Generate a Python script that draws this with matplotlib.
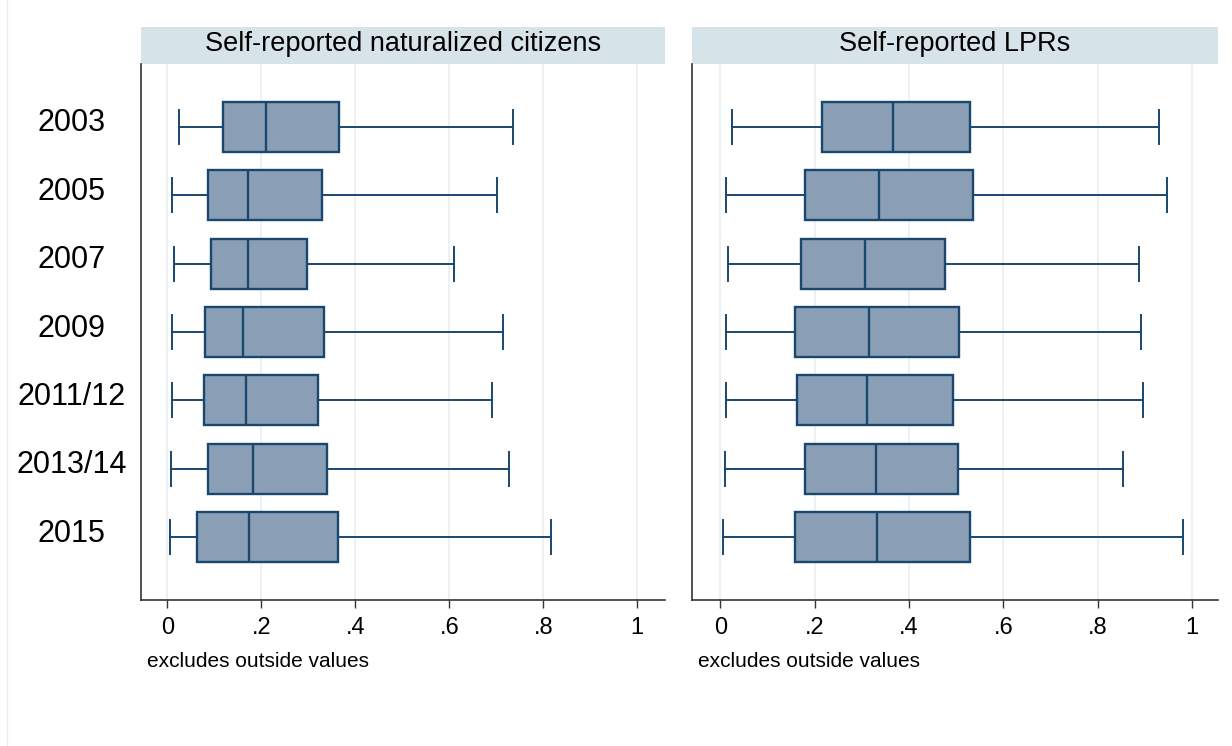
import matplotlib
matplotlib.use("Agg")
import matplotlib.pyplot as plt
import matplotlib.transforms as mtransforms
from matplotlib.patches import Rectangle
from matplotlib.lines import Line2D

plt.rcParams['font.family'] = ['Liberation Sans', 'DejaVu Sans']

years = ['2003', '2005', '2007', '2009', '2011/12', '2013/14', '2015']
titles = ['Self-reported naturalized citizens', 'Self-reported LPRs']
xticks = [0, 0.2, 0.4, 0.6, 0.8, 1]
xticklabels = ['0', '.2', '.4', '.6', '.8', '1']

# naturalized citizens
nat_lo = [0.025, 0.009, 0.014, 0.010, 0.011, 0.007, 0.006]
nat_q1 = [0.119, 0.086, 0.093, 0.081, 0.077, 0.086, 0.064]
nat_med = [0.211, 0.171, 0.171, 0.162, 0.168, 0.182, 0.173]
nat_q3 = [0.365, 0.330, 0.298, 0.333, 0.320, 0.340, 0.364]
nat_hi = [0.736, 0.702, 0.610, 0.714, 0.691, 0.726, 0.817]

# LPRs
lpr_lo = [0.024, 0.012, 0.016, 0.012, 0.012, 0.010, 0.005]
lpr_q1 = [0.216, 0.179, 0.171, 0.158, 0.162, 0.179, 0.158]
lpr_med = [0.367, 0.337, 0.306, 0.316, 0.311, 0.330, 0.333]
lpr_q3 = [0.530, 0.536, 0.476, 0.507, 0.494, 0.503, 0.529]
lpr_hi = [0.929, 0.946, 0.888, 0.891, 0.895, 0.854, 0.980]

navy = '#1a476f'
fill = '#8a9fb6'
strip = '#d6e3e9'
gridc = '#e8eff2'

fig = plt.figure(figsize=(12.32, 7.46), dpi=100)

panels = [
    (141 / 1232, 524 / 1232, (-0.056, 1.059), (nat_lo, nat_q1, nat_med, nat_q3, nat_hi)),
    (692 / 1232, 526 / 1232, (-0.060, 1.055), (lpr_lo, lpr_q1, lpr_med, lpr_q3, lpr_hi)),
]
bottom = (746 - 600) / 746
height = 536 / 746

for i, (left, width, xlim, data) in enumerate(panels):
    ax = fig.add_axes([left, bottom, width, height])
    lo, q1, med, q3, hi = data
    stats = []
    for k in range(len(years)):
        stats.append(dict(whislo=lo[k], q1=q1[k], med=med[k], q3=q3[k],
                          whishi=hi[k], fliers=[], label=years[k]))
    pos = list(range(1, len(years) + 1))
    ax.bxp(stats, positions=pos, widths=0.73, orientation='horizontal',
           patch_artist=True, showfliers=False, capwidths=0.5, manage_ticks=False,
           boxprops=dict(facecolor=fill, edgecolor=navy, linewidth=1.7),
           medianprops=dict(color=navy, linewidth=1.7),
           whiskerprops=dict(color=navy, linewidth=1.4),
           capprops=dict(color=navy, linewidth=1.4))
    ax.set_ylim(7.92, 0.08)
    ax.set_xlim(*xlim)
    ax.set_xticks(xticks)
    ax.set_xticklabels(xticklabels, fontsize=17)
    ax.grid(axis='x', color=gridc, linewidth=1.2, zorder=0)
    ax.set_axisbelow(True)
    ax.spines['top'].set_visible(False)
    ax.spines['right'].set_visible(False)
    ax.spines['left'].set_color('#333333')
    ax.spines['bottom'].set_color('#333333')
    ax.spines['left'].set_linewidth(1.2)
    ax.spines['bottom'].set_linewidth(1.2)
    ax.tick_params(axis='x', length=6, width=1, color='#333333', pad=6)
    if i == 0:
        ax.set_yticks(pos)
        ax.set_yticklabels(years, fontsize=22, ha='center')
        ax.tick_params(axis='y', length=0, pad=50)
        # labels sit a little above the box centres in the original
        shift = mtransforms.ScaledTranslation(0, 5 / 72, fig.dpi_scale_trans)
        for lab in ax.get_yticklabels():
            lab.set_transform(lab.get_transform() + shift)
    else:
        ax.set_yticks([])
    ax.annotate('excludes outside values', xy=(0, 0), xycoords='axes fraction',
                xytext=(4.5, -44.5), textcoords='offset points',
                fontsize=15, ha='left', va='center')
    ax.add_patch(Rectangle((0, 1.0), 1, 37 / 536, transform=ax.transAxes,
                           facecolor=strip, edgecolor='none', clip_on=False))
    ax.text(0.5, 1 + 20 / 536, titles[i], transform=ax.transAxes, fontsize=19.5,
            ha='center', va='center')

fig.add_artist(Line2D([7 / 1232, 7 / 1232], [0, 1], color='#ececec', linewidth=1))

fig.savefig('out.png', dpi=100)
